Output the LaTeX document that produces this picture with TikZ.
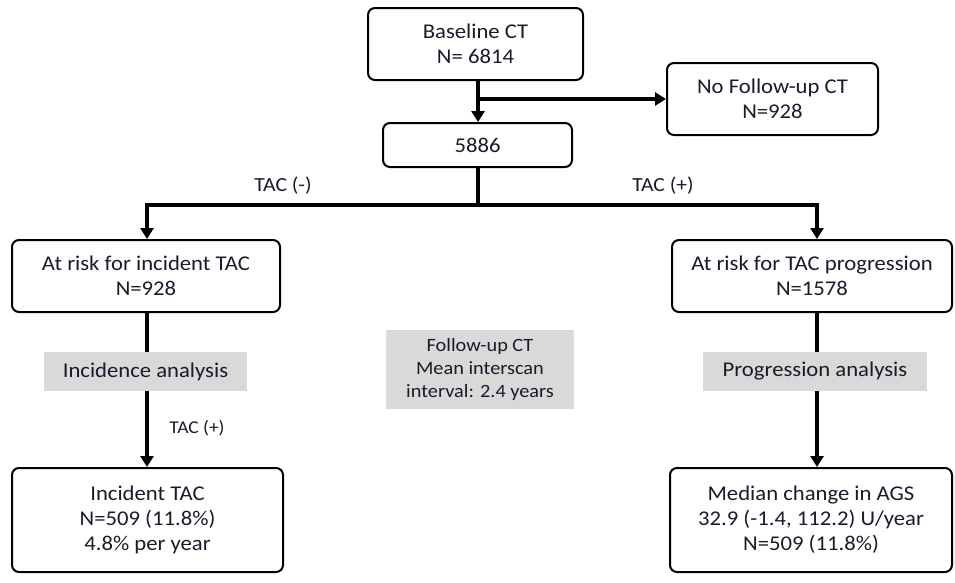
\documentclass[tikz,border=0pt]{standalone}
\usepackage{fontspec}
\setmainfont[FakeStretch=1.08]{Carlito}
\usetikzlibrary{arrows.meta}
\definecolor{greyfill}{HTML}{D9D9D9}
\definecolor{txt}{HTML}{1A1A2A}
\begin{document}
\begin{tikzpicture}[x=1pt,y=-1pt,
 box/.style={draw, line width=2pt, rounded corners=7pt, align=center, text=txt, font=\fontsize{21}{25}\selectfont, inner sep=0pt},
 greybox/.style={fill=greyfill, align=center, text=txt, inner sep=0pt},
 arr/.style={line width=3.2pt, -{Triangle[length=11pt,width=13pt]}},
 ln/.style={line width=3.2pt},
 lbl/.style={text=txt, font=\fontsize{20}{24}\selectfont}]
\useasboundingbox (0,0) rectangle (955,582);
\node[box, minimum width=215, minimum height=72] (base) at (475.5,44) {Baseline CT\\N= 6814};
\node[box, minimum width=211, minimum height=72] (nofu) at (772.5,99) {No Follow-up CT\\N=928};
\node[box, minimum width=189, minimum height=44] (n5886) at (477.5,145) {5886};
\node[box, minimum width=268, minimum height=72] (inc) at (146,276) {At risk for incident TAC\\N=928};
\node[box, minimum width=280, minimum height=72] (prog) at (812,276) {At risk for TAC progression\\N=1578};
\node[greybox, minimum width=203, minimum height=39, font=\fontsize{21}{25}\selectfont] (incan) at (145.5,371.5) {Incidence analysis};
\node[greybox, minimum width=224, minimum height=39, font=\fontsize{21}{25}\selectfont] (progan) at (815,371.5) {Progression analysis};
\node[greybox, minimum width=188, minimum height=79, font=\fontsize{18.8}{23}\selectfont] (fu) at (480,369.5) {Follow-up CT\\Mean interscan\\interval: 2.4 years};
\node[box, minimum width=271, minimum height=104] (incT) at (147.5,520) {Incident TAC\\N=509 (11.8\%)\\4.8\% per year};
\node[box, minimum width=282, minimum height=104] (med) at (811,520) {Median change in AGS\\32.9 (-1.4, 112.2) U/year\\N=509 (11.8\%)};
\node[lbl] (lminus) at (283,186) {TAC (-)};
\node[lbl] (lplus) at (663,186) {TAC (+)};
\node[text=txt, font=\fontsize{18}{22}\selectfont] (lplus2) at (197,428) {TAC (+)};
\coordinate (rc) at (817,0);
\coordinate (lc) at (147,0);
\coordinate (mc) at (478,0);
% connectors
\draw[arr] (mc |- base.south) -- (mc |- n5886.north);
\draw[arr] (mc |- nofu.west) -- (nofu.west);
\draw[ln] (mc |- n5886.south) -- ++(0,37) coordinate (split);
\draw[arr] (split) -| (lc |- inc.north);
\draw[arr] (split) -| (rc |- prog.north);
\draw[ln] (lc |- inc.south) -- (lc |- incan.north);
\draw[arr] (lc |- incan.south) -- (lc |- incT.north);
\draw[ln] (rc |- prog.south) -- (rc |- progan.north);
\draw[arr] (rc |- progan.south) -- (rc |- med.north);
\end{tikzpicture}
\end{document}
